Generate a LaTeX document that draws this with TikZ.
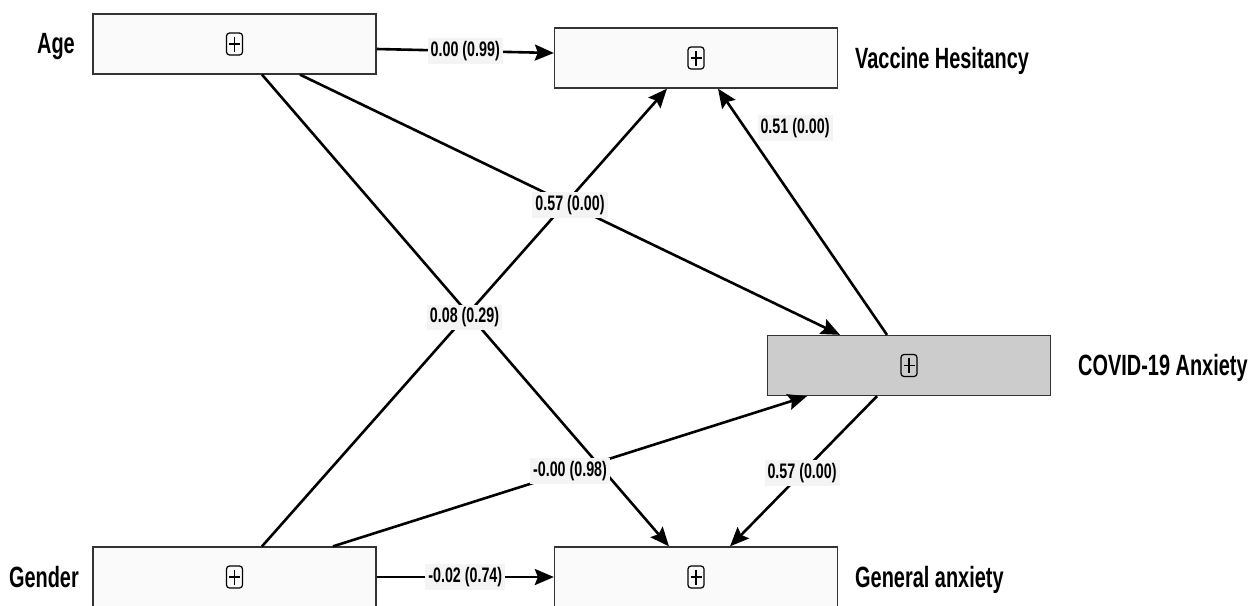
\documentclass[tikz,border=0pt]{standalone}
\usepackage{fontspec}
\setmainfont{Liberation Sans}[FakeStretch=0.68]
\usetikzlibrary{arrows.meta}
\definecolor{boxfill}{HTML}{FAFAFA}
\definecolor{covfill}{HTML}{CCCCCC}
\definecolor{boxline}{HTML}{333333}
\definecolor{labbg}{HTML}{F4F4F4}
\begin{document}
\begin{tikzpicture}[x=1pt,y=-1pt,
  var/.style={draw=boxline,line width=1.3pt,fill=boxfill,minimum width=283pt,minimum height=60pt,inner sep=0pt},
  vname/.style={font=\bfseries\fontsize{29.3}{32}\selectfont,inner sep=0pt},
  arr/.style={line width=2.6pt,-{Stealth[length=19pt,width=16pt,inset=3pt]}},
  coef/.style={fill=labbg,inner sep=3pt,font=\bfseries\fontsize{21}{24}\selectfont},
  plusbox/.pic={
    \draw[line width=1.2pt,rounded corners=3pt] (-8,-11) rectangle (8,11);
    \draw[line width=1.2pt] (-5.5,0) -- (5.5,0) (0,-7.5) -- (0,7.5);
  }]
\useasboundingbox (0,0) rectangle (1257,605);
\clip (0,0) rectangle (1257,605);
\fill[white] (0,0) rectangle (1257,605);

% variable boxes
\node[var] (age) at (234.5,44) {};
\node[var] (vac) at (696,58) {};
\node[var,fill=covfill] (cov) at (909,365.5) {};
\node[var] (gen) at (234.5,577) {};
\node[var] (gan) at (696,577) {};
\pic at (age.center) {plusbox};
\pic at (vac.center) {plusbox};
\pic at (cov.center) {plusbox};
\pic at (gen.center) {plusbox};
\pic at (gan.center) {plusbox};

% variable names
\node[vname,anchor=base east] (agel) at (75,53) {Age};
\node[vname,anchor=base west] (vacl) at (855,68) {Vaccine Hesitancy};
\node[vname,anchor=base west] (covl) at (1078,375) {COVID-19 Anxiety};
\node[vname,anchor=base east] (genl) at (79,587) {Gender};
\node[vname,anchor=base west] (ganl) at (855,587) {General anxiety};

% paths
\draw[arr] ([yshift=-5pt]age.east) -- ([yshift=5pt]vac.west);
\draw[arr] ([xshift=65.5pt]age.south) -- ([xshift=-69pt]cov.north);
\draw[arr] ([xshift=27.5pt]age.south) -- ([xshift=-27pt]gan.north);
\draw[arr] ([xshift=27.5pt]gen.north) -- ([xshift=-29pt]vac.south);
\draw[arr] ([xshift=98.5pt]gen.north) -- ([xshift=-102pt]cov.south);
\draw[arr] (gen.east) -- (gan.west);
\draw[arr] ([xshift=-22pt]cov.north) -- ([xshift=22pt]vac.south);
\draw[arr] ([xshift=-32pt]cov.south) -- ([xshift=34pt]gan.north);

% coefficients
\path ([yshift=-5pt]age.east) -- node[coef] {0.00 (0.99)} ([yshift=5pt]vac.west);
\path ([xshift=65.5pt]age.south) -- node[coef] {0.57 (0.00)} ([xshift=-69pt]cov.north);
\path ([xshift=27.5pt]gen.north) -- node[coef] {0.08 (0.29)} ([xshift=-29pt]vac.south);
\path ([xshift=98.5pt]gen.north) -- node[coef] {-0.00 (0.98)} ([xshift=-102pt]cov.south);
\path (gen.east) -- node[coef] {-0.02 (0.74)} (gan.west);
\path ([xshift=-22pt]cov.north) -- node[coef,pos=0.84,xshift=50pt] {0.51 (0.00)} ([xshift=22pt]vac.south);
\path ([xshift=-32pt]cov.south) -- node[coef,pos=0.51] {0.57 (0.00)} ([xshift=34pt]gan.north);
\end{tikzpicture}
\end{document}
